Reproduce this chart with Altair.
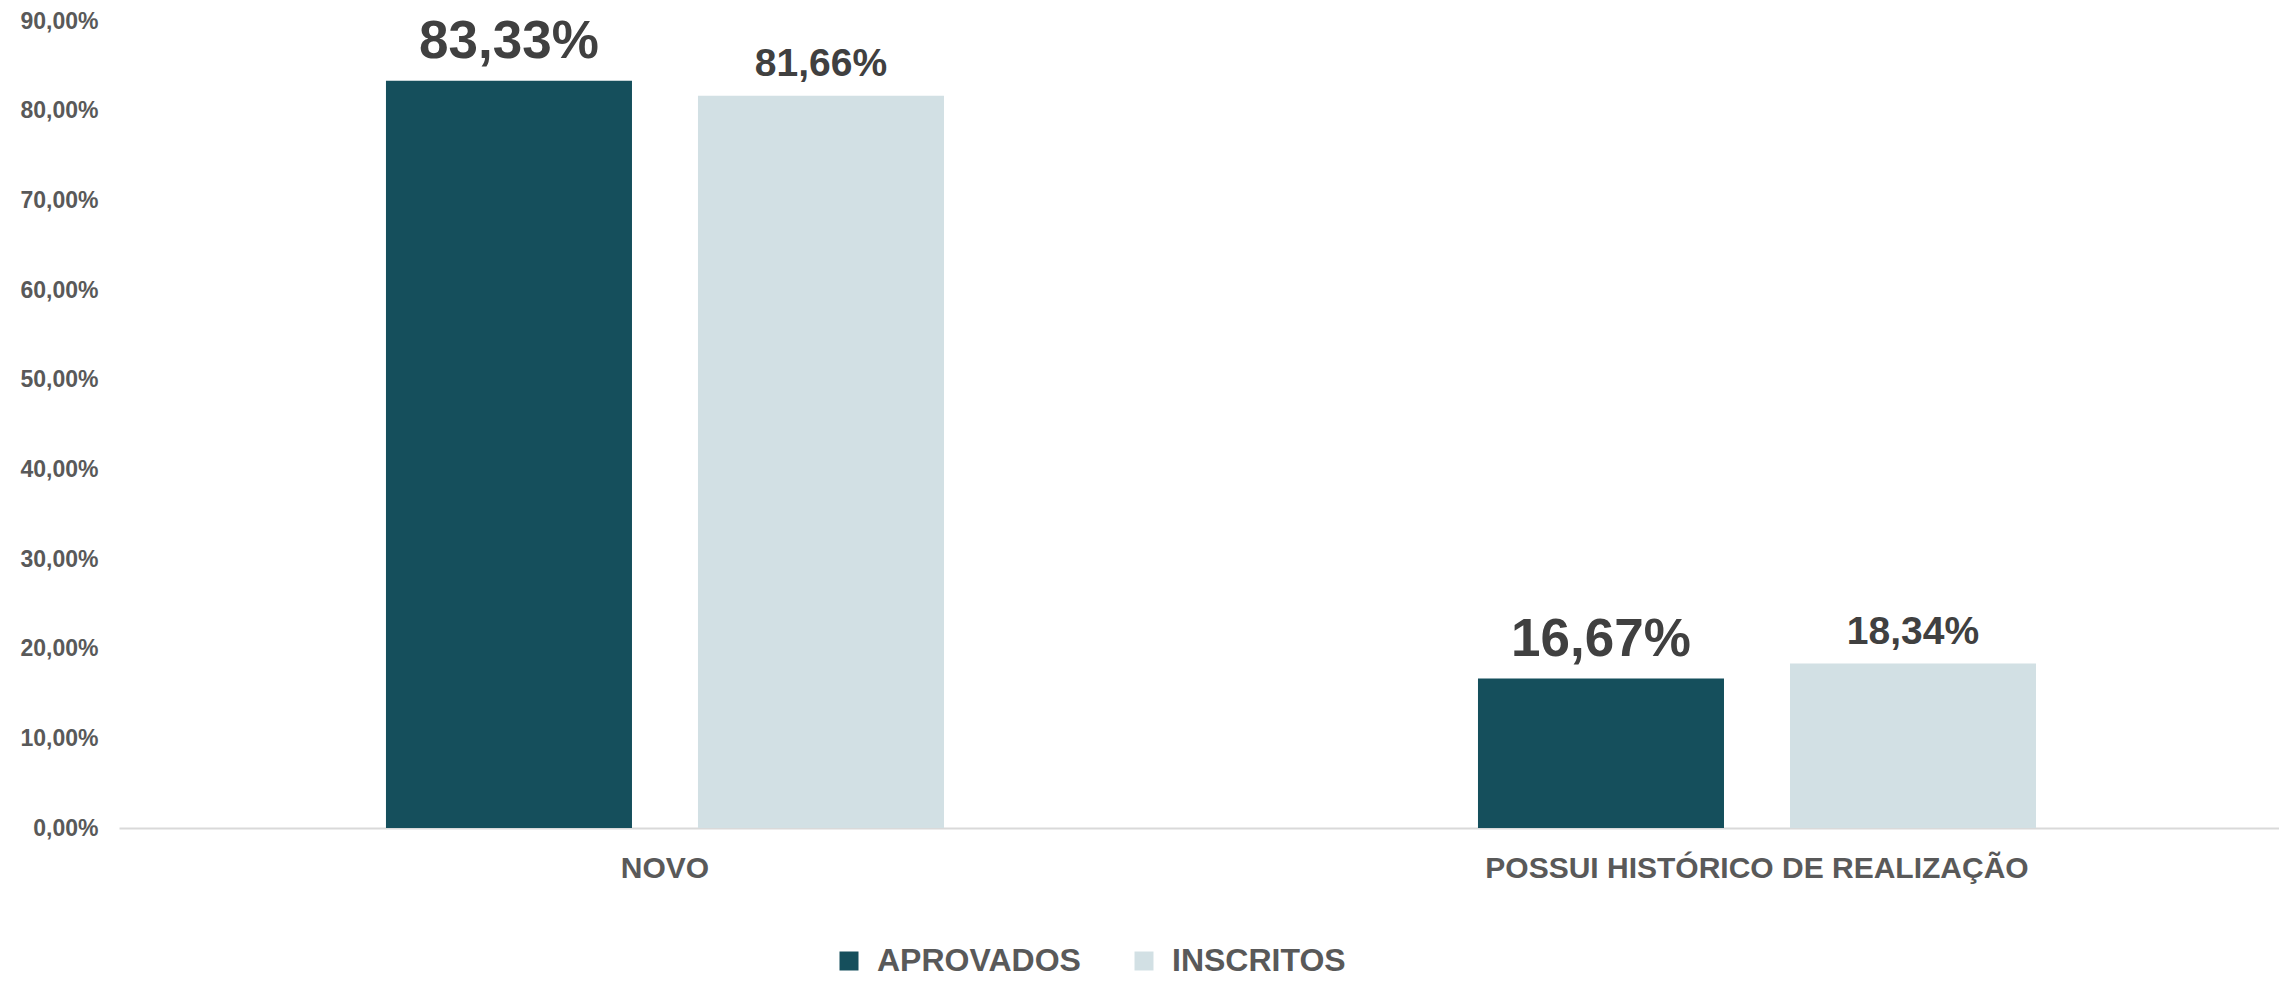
import altair as alt
import pandas as pd

categories = ["NOVO", "POSSUI HISTÓRICO DE REALIZAÇÃO"]
series = ["APROVADOS", "INSCRITOS"]
aprovados = [0.8333, 0.1667]
inscritos = [0.8166, 0.1834]
y_ticks = [0.0, 0.1, 0.2, 0.3, 0.4, 0.5, 0.6, 0.7, 0.8, 0.9]

colors = ["#154F5C", "#D2E0E4"]

rows = []
for i, c in enumerate(categories):
    rows.append({"cat": c, "series": series[0], "value": aprovados[i]})
    rows.append({"cat": c, "series": series[1], "value": inscritos[i]})
df = pd.DataFrame(rows)

FONT = "Liberation Sans"
LABEL_FONT = "Liberation Sans"

x_enc = alt.X(
    "cat:N",
    sort=categories,
    scale=alt.Scale(paddingInner=0.489, paddingOuter=0.2335, align=0.5235),
    axis=alt.Axis(
        title=None,
        labelAngle=0,
        ticks=False,
        domain=True,
        domainColor="#D9D9D9",
        domainWidth=2,
        grid=False,
        labelFont=FONT,
        labelFontSize=30,
        labelFontWeight="bold",
        labelColor="#595959",
        labelPadding=25,
        labelLimit=0,
    ),
)
xo_enc = alt.XOffset(
    "series:N", sort=series, scale=alt.Scale(paddingInner=0.2115, paddingOuter=0)
)
y_enc = alt.Y(
    "value:Q",
    scale=alt.Scale(domain=[0, 0.9], nice=False),
    axis=alt.Axis(
        title=None,
        values=y_ticks,
        labelExpr="replace(format(datum.value, '.2%'), '.', ',')",
        grid=False,
        domain=False,
        ticks=False,
        labelFont=FONT,
        labelFontSize=23,
        labelFontWeight="bold",
        labelColor="#595959",
        labelPadding=21,
        labelLimit=0,
    ),
)

base = alt.Chart(df)

bars = base.mark_bar().encode(
    x=x_enc,
    xOffset=xo_enc,
    y=y_enc,
    color=alt.Color(
        "series:N",
        sort=series,
        scale=alt.Scale(domain=series, range=colors),
        legend=alt.Legend(
            title=None,
            orient="none",
            legendX=714,
            legendY=924,
            direction="horizontal",
            symbolType="square",
            symbolSize=361,
            symbolStrokeWidth=0,
            labelFont=FONT,
            labelFontSize=32,
            labelFontWeight="bold",
            labelColor="#595959",
            labelOffset=12,
            labelLimit=0,
            columnPadding=47,
            padding=0,
        ),
    ),
)

txt_a = (
    base.transform_filter(alt.datum.series == "APROVADOS")
    .transform_calculate(lbl="replace(format(datum.value, '.2%'), '.', ',')")
    .mark_text(font=LABEL_FONT, fontWeight="bold", fontSize=53, color="#404040",
               baseline="alphabetic", dy=-23)
    .encode(x=x_enc, xOffset=xo_enc, y=y_enc, text="lbl:N")
)
txt_i = (
    base.transform_filter(alt.datum.series == "INSCRITOS")
    .transform_calculate(lbl="replace(format(datum.value, '.2%'), '.', ',')")
    .mark_text(font=LABEL_FONT, fontWeight="bold", fontSize=39, color="#404040",
               baseline="alphabetic", dy=-20)
    .encode(x=x_enc, xOffset=xo_enc, y=y_enc, text="lbl:N")
)

chart = (
    alt.layer(bars, txt_a, txt_i)
    .properties(
        width=2160,
        height=807,
        autosize=alt.AutoSizeParams(type="none"),
        padding={"left": 111, "top": 13, "right": 0, "bottom": 153},
    )
    .configure_view(stroke=None)
)

chart.save("out.html", embed_options={"renderer": "svg", "actions": False})
